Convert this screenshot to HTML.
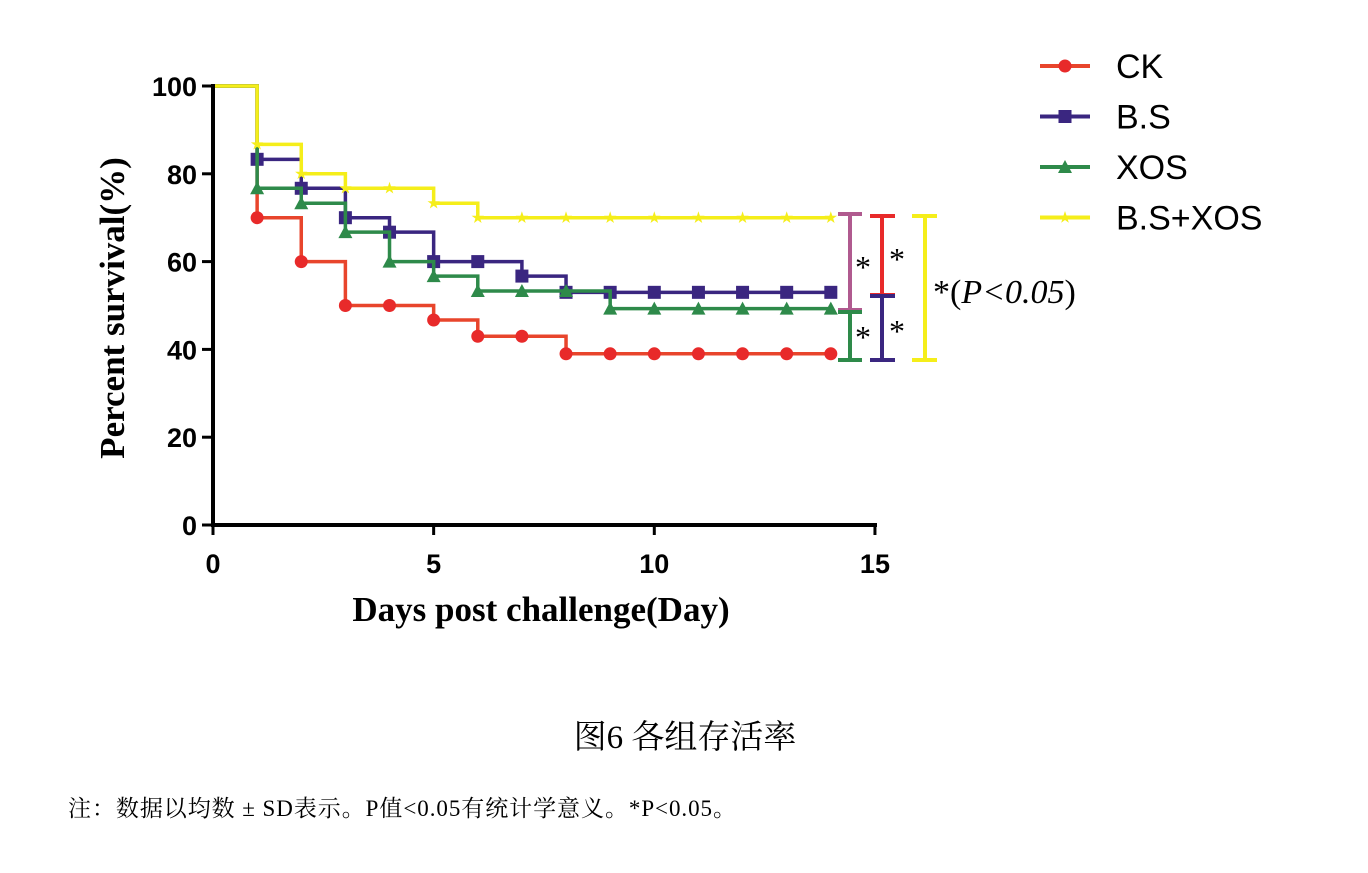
<!DOCTYPE html>
<html><head><meta charset="utf-8"><style>
body{margin:0;background:#fff}
svg{display:block}
</style></head><body>
<svg width="1368" height="873" xmlns="http://www.w3.org/2000/svg">
<g id="plot"></g>
<g>
<line x1="213" y1="525" x2="877" y2="525" stroke="#000" stroke-width="4"/>
</g>
<g>
<line x1="213" y1="84" x2="213" y2="527" stroke="#000" stroke-width="4"/>
</g>
<g id="ticks" font-family="Liberation Sans, sans-serif" font-weight="bold" font-size="27"></g>
<text transform="translate(124,308) rotate(-90)" text-anchor="middle" font-family="Liberation Serif, serif" font-weight="bold" font-size="35">Percent survival(%)</text>
<text x="541" y="621" text-anchor="middle" font-family="Liberation Serif, serif" font-weight="bold" font-size="35">Days post challenge(Day)</text>
<g stroke-width="4" fill="none">
<path d="M838 214H862M850 214V310M838 310H862" stroke="#b05a8f"/>
<path d="M870 216H895M882 216V295M870 295H895" stroke="#e82a2a"/>
<path d="M838 312H862M850 312V360M838 360H862" stroke="#2e8a4a"/>
<path d="M870 296H895M882 296V360M870 360H895" stroke="#3a2680"/>
<path d="M912 216H937M925 216V360M912 360H937" stroke="#f5ee1a"/>
</g>
<g font-family="Liberation Serif, serif" font-size="32" fill="#000">
<text x="855" y="278">*</text>
<text x="889" y="270">*</text>
<text x="855" y="348">*</text>
<text x="889" y="342">*</text>
<text x="933" y="303" font-size="34">*(<tspan font-style="italic">P&lt;0.05</tspan>)</text>
</g>
<g id="legend" font-family="Liberation Sans, sans-serif" font-size="34"></g>
<text x="685" y="748" text-anchor="middle" font-family="Liberation Serif, 'Noto Serif CJK SC', serif" font-size="33">图6 各组存活率</text>
<text x="68" y="816" font-family="Liberation Serif, 'Noto Serif CJK SC', serif" font-size="23" textLength="668" lengthAdjust="spacing">注：数据以均数 ± SD表示。P值&lt;0.05有统计学意义。*P&lt;0.05。</text>
</svg>
<script>
const days=[0,1,2,3,4,5,6,7,8,9,10,11,12,13,14];
const ck=[100,70,60,50,50,46.7,43,43,39,39,39,39,39,39,39];
const bs=[100,83.3,76.7,70,66.7,60,60,56.7,53,53,53,53,53,53,53];
const xos=[100,76.7,73.3,66.7,60,56.7,53.3,53.3,53.3,49.3,49.3,49.3,49.3,49.3,49.3];
const bsxos=[100,86.7,80,76.7,76.7,73.3,70,70,70,70,70,70,70,70,70];
const xTicks=[0,5,10,15];
const yTicks=[0,20,40,60,80,100];
const seriesNames=["CK","B.S","XOS","B.S+XOS"];
const NS="http://www.w3.org/2000/svg";
const X=d=>213+d*44.13, Y=v=>525-v*4.39;
const ticks=document.getElementById('ticks');
xTicks.forEach(t=>{
 const l=document.createElementNS(NS,'line');l.setAttribute('x1',X(t));l.setAttribute('x2',X(t));l.setAttribute('y1',525);l.setAttribute('y2',535);l.setAttribute('stroke','#000');l.setAttribute('stroke-width',3);
 
 
 ticks.appendChild(l);
 const tx=document.createElementNS(NS,'text');tx.setAttribute('x',X(t));tx.setAttribute('y',573);tx.setAttribute('text-anchor','middle');tx.textContent=t;
 
 
 ticks.appendChild(tx);
});
yTicks.forEach(t=>{
 const l=document.createElementNS(NS,'line');l.setAttribute('x1',202);l.setAttribute('x2',213);l.setAttribute('y1',Y(t));l.setAttribute('y2',Y(t));l.setAttribute('stroke','#000');l.setAttribute('stroke-width',3);
 
 
 ticks.appendChild(l);
 const tx=document.createElementNS(NS,'text');tx.setAttribute('x',197);tx.setAttribute('y',Y(t)+10);tx.setAttribute('text-anchor','end');tx.textContent=t;
 
 
 ticks.appendChild(tx);
});
const cols=["#e8452c","#3a2680","#2e8a4a","#f5ee1a"];
const mcols=["#e82a2a","#3a2680","#2e8a4a","#f5ee1a"];
const shapes=["circle","square","triangle","star"];
function marker(shape,x,y,c){
 let el;
 if(shape==="circle"){el=document.createElementNS(NS,'circle');el.setAttribute('cx',x);el.setAttribute('cy',y);el.setAttribute('r',6.5);}
 else if(shape==="square"){el=document.createElementNS(NS,'rect');el.setAttribute('x',x-6.5);el.setAttribute('y',y-6.5);el.setAttribute('width',13);el.setAttribute('height',13);}
 else if(shape==="triangle"){el=document.createElementNS(NS,'polygon');el.setAttribute('points',`${x},${y-7} ${x-7},${y+6} ${x+7},${y+6}`);}
 else {el=document.createElementNS(NS,'polygon');let p=[];for(let i=0;i<10;i++){const r=i%2?2.5:6.5,a=-Math.PI/2+i*Math.PI/5;p.push((x+r*Math.cos(a)).toFixed(1)+','+(y+r*Math.sin(a)).toFixed(1));}el.setAttribute('points',p.join(' '));}
 el.setAttribute('fill',c);
 return el;
}
const plot=document.getElementById('plot');
[ck,bs,xos,bsxos].forEach((s,k)=>{
 const g=document.createElementNS(NS,'g');
 
 
 let d=`M${X(days[0])},${Y(s[0])}`;
 for(let i=1;i<days.length;i++){d+=`H${X(days[i])}V${Y(s[i])}`;}
 const p=document.createElementNS(NS,'path');p.setAttribute('d',d);p.setAttribute('fill','none');p.setAttribute('stroke',cols[k]);p.setAttribute('stroke-width',3.5);
 
 
 g.appendChild(p);
 for(let i=1;i<days.length;i++){
  const m=marker(shapes[k],X(days[i]),Y(s[i]),mcols[k]);
  
  
  g.appendChild(m);
 }
 plot.appendChild(g);
 const lg=document.getElementById('legend');
 const ly=66+k*50.5;
 const e=document.createElementNS(NS,'g');
 
 
 const ll=document.createElementNS(NS,'line');ll.setAttribute('x1',1040);ll.setAttribute('x2',1090);ll.setAttribute('y1',ly);ll.setAttribute('y2',ly);ll.setAttribute('stroke',cols[k]);ll.setAttribute('stroke-width',4);
 e.appendChild(ll);
 e.appendChild(marker(shapes[k],1065,ly,mcols[k]));
 const t=document.createElementNS(NS,'text');t.setAttribute('x',1116);t.setAttribute('y',ly+12);t.textContent=seriesNames[k];
 e.appendChild(t);
 lg.appendChild(e);
});
</script>
</body></html>
